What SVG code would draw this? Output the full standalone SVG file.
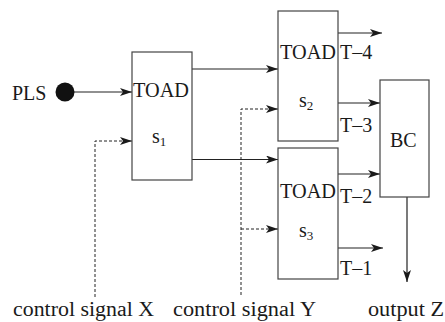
<svg xmlns="http://www.w3.org/2000/svg" width="445" height="322" viewBox="0 0 445 322">
<defs>
<marker id="ah" markerWidth="13" markerHeight="9" refX="12" refY="4" orient="auto" markerUnits="userSpaceOnUse">
<path d="M0,0 L12,4 L0,8 L3,4 z" fill="#1a1a1a"/>
</marker>
<style>
.box{fill:#fff;stroke:#444;stroke-width:1.2}
.ln{fill:none;stroke:#222;stroke-width:1.2;marker-end:url(#ah)}
.ds{fill:none;stroke:#222;stroke-width:1;stroke-dasharray:3,2}
.dsa{fill:none;stroke:#222;stroke-width:1;stroke-dasharray:3,2;marker-end:url(#ah)}
text{font-family:"Liberation Serif","Times New Roman",serif;font-size:20px;fill:#1a1a1a}
.sub{font-size:13px}
</style>
</defs>
<rect width="445" height="322" fill="#fff"/>
<g id="connectors">
<line class="ln" x1="74" y1="92" x2="132" y2="92"/>
<path class="ln" d="M192,69 H278"/>
<path class="ln" d="M192,159.5 H278"/>
<path class="ln" d="M338,33 H382"/>
<path class="ln" d="M338,103 H380"/>
<path class="ln" d="M338,174 H380"/>
<path class="ln" d="M338,248 H383"/>
<path class="ln" d="M407,197 V282"/>
<path class="dsa" d="M95,297 V141 H132"/>
<path class="dsa" d="M241,295 V109 H278"/>
<path class="dsa" d="M241,229 H278"/>
</g>
<g id="pls">
<circle cx="65" cy="92" r="9.5" fill="#111"/>
<text x="12" y="100">PLS</text>
</g>
<g id="toad1">
<rect class="box" x="132" y="52" width="60" height="128"/>
<text x="133" y="97" textLength="56" lengthAdjust="spacingAndGlyphs">TOAD</text>
<text x="152" y="143">s<tspan class="sub" dy="3">1</tspan></text>
</g>
<g id="toad2">
<rect class="box" x="278" y="11" width="60" height="130"/>
<text x="280" y="59" textLength="56" lengthAdjust="spacingAndGlyphs">TOAD</text>
<text x="299" y="107">s<tspan class="sub" dy="3">2</tspan></text>
</g>
<g id="toad3">
<rect class="box" x="278" y="148" width="60" height="131"/>
<text x="280" y="198" textLength="56" lengthAdjust="spacingAndGlyphs">TOAD</text>
<text x="299" y="237">s<tspan class="sub" dy="3">3</tspan></text>
</g>
<g id="bc">
<rect class="box" x="380" y="80" width="49" height="117"/>
<text x="390" y="147">BC</text>
</g>
<g id="labels">
<text x="340" y="59">T–4</text>
<text x="340" y="132">T–3</text>
<text x="340" y="203">T–2</text>
<text x="340" y="275">T–1</text>
<text x="13" y="316" textLength="141" lengthAdjust="spacingAndGlyphs">control signal X</text>
<text x="173" y="316" textLength="143" lengthAdjust="spacingAndGlyphs">control signal Y</text>
<text x="368" y="316" textLength="76" lengthAdjust="spacingAndGlyphs">output Z</text>
</g>
</svg>
